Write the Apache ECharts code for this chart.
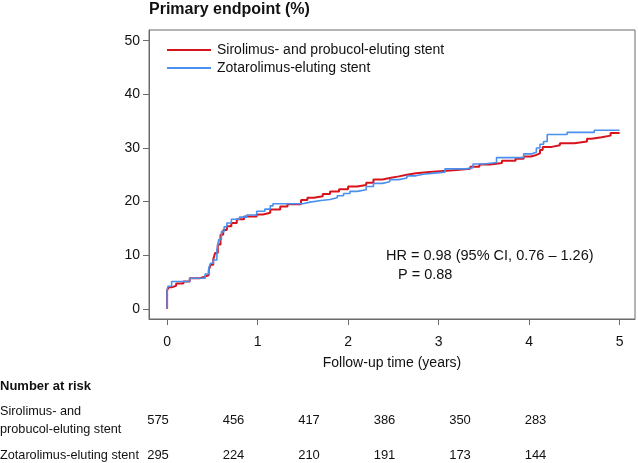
<!DOCTYPE html>
<html>
<head>
<meta charset="utf-8">
<script src="https://cdn.jsdelivr.net/npm/echarts@6/dist/echarts.min.js"></script>
<style>
html,body{margin:0;padding:0;background:#fff;}
#chart{width:638px;height:463px;}
</style>
</head>
<body>
<div id="chart"></div>
<script>
// ---- Data ----
const seriesNames = ['Sirolimus- and probucol-eluting stent', 'Zotarolimus-eluting stent'];
const xTicks = [0, 1, 2, 3, 4, 5];
const yTicks = [0, 10, 20, 30, 40, 50];

const sirolimusTime = [0, 0, 0.02, 0.05, 0.1, 0.18, 0.25, 0.36, 0.42, 0.46, 0.48, 0.51, 0.53, 0.56, 0.59, 0.62, 0.66, 0.71, 0.77, 0.85, 0.99, 1.06, 1.14, 1.25, 1.33, 1.48, 1.55, 1.62, 1.72, 1.8, 1.9, 2.0, 2.1, 2.2, 2.28, 2.38, 2.46, 2.56, 2.65, 2.75, 2.9, 3.05, 3.2, 3.35, 3.45, 3.57, 3.7, 3.85, 3.94, 4.02, 4.08, 4.12, 4.15, 4.25, 4.34, 4.5, 4.64, 4.69, 4.8, 4.9, 5.0];
const sirolimusRisk = [0, 3.5, 4.0, 4.3, 4.7, 5.1, 5.7, 6.0, 6.3, 7.2, 8.2, 9.2, 10.4, 12.0, 13.8, 14.7, 15.4, 16.0, 16.7, 17.2, 17.6, 17.9, 18.5, 19.1, 19.5, 20.3, 20.7, 21.0, 21.4, 21.9, 22.3, 22.8, 23.1, 23.5, 24.1, 24.4, 24.7, 25.0, 25.3, 25.5, 25.7, 25.9, 26.1, 26.5, 26.9, 27.2, 27.6, 28.0, 28.4, 28.7, 29.0, 29.6, 30.2, 30.5, 30.9, 31.2, 31.7, 32.0, 32.3, 32.8, 32.8];

const zotarolimusTime = [0, 0, 0.01, 0.05, 0.25, 0.42, 0.46, 0.48, 0.51, 0.55, 0.57, 0.6, 0.63, 0.66, 0.71, 0.8, 0.88, 0.99, 1.08, 1.14, 1.17, 1.5, 1.58, 1.7, 1.8, 1.88, 1.95, 2.02, 2.1, 2.2, 2.28, 2.38, 2.46, 2.56, 2.65, 2.75, 2.83, 2.95, 3.07, 3.3, 3.38, 3.5, 3.64, 3.94, 4.03, 4.08, 4.12, 4.16, 4.2, 4.42, 4.72, 5.0];
const zotarolimusRisk = [0, 3.5, 4.2, 5.1, 5.7, 6.5, 7.6, 8.5, 9.1, 11.0, 12.9, 14.4, 15.3, 16.0, 16.7, 17.1, 17.5, 18.2, 18.6, 19.2, 19.6, 19.9, 20.2, 20.4, 20.7, 21.1, 21.5, 21.9, 22.2, 22.8, 23.4, 23.7, 24.1, 24.4, 24.8, 25.1, 25.3, 25.5, 26.1, 26.3, 27.0, 27.3, 28.2, 28.9, 29.2, 30.0, 30.7, 31.2, 32.5, 32.9, 33.3, 33.3];

const riskTableTitle = 'Number at risk';
const riskRowLabels = [['Sirolimus- and', 'probucol-eluting stent'], ['Zotarolimus-eluting stent']];
const sirolimusAtRisk = [575, 456, 417, 386, 350, 283];
const zotarolimusAtRisk = [295, 224, 210, 191, 173, 144];

const hrText = 'HR = 0.98 (95% CI, 0.76 \u2013 1.26)';
const pText = 'P = 0.88';
const titleText = 'Primary endpoint (%)';
const xAxisName = 'Follow-up time (years)';

// ---- Build ----
const FONT = '"Liberation Sans", Arial, Helvetica, sans-serif';
const zip = (t, v) => t.map((x, i) => [x, v[i]]);
const colors = ['#d7141c', '#4a90ee'];

const gridLeft = 149, gridTop = 30, gridRight = 635, gridBottom = 319;

const graphics = [];
// Title
graphics.push({type:'text', x:149, y:10, style:{text:titleText, font:'bold 16px ' + FONT, fill:'#111', verticalAlign:'middle'}});
// HR
graphics.push({type:'text', x:386, y:256, style:{text:hrText, font:'14.5px ' + FONT, fill:'#111', verticalAlign:'middle'}});
graphics.push({type:'text', x:398, y:275, style:{text:pText, font:'14.5px ' + FONT, fill:'#111', verticalAlign:'middle'}});
// Risk table
graphics.push({type:'text', x:0, y:386, style:{text:riskTableTitle, font:'bold 13px ' + FONT, fill:'#111', verticalAlign:'middle'}});
graphics.push({type:'text', x:0, y:411, style:{text:riskRowLabels[0][0], font:'12.7px ' + FONT, fill:'#111', verticalAlign:'middle'}});
graphics.push({type:'text', x:0, y:429, style:{text:riskRowLabels[0][1], font:'12.7px ' + FONT, fill:'#111', verticalAlign:'middle'}});
graphics.push({type:'text', x:0, y:455, style:{text:riskRowLabels[1][0], font:'12.7px ' + FONT, fill:'#111', verticalAlign:'middle'}});
const colStart = 158, colStep = 75.5;
[sirolimusAtRisk, zotarolimusAtRisk].forEach((row, r) => {
  row.forEach((n, i) => {
    graphics.push({type:'text', x: colStart + i * colStep, y: r === 0 ? 420 : 455,
      style:{text:String(n), font:'13px ' + FONT, fill:'#111', align:'center', verticalAlign:'middle'}});
  });
});

const chart = echarts.init(document.getElementById('chart'), null, {renderer:'canvas'});
chart.setOption({
  animation: false,
  backgroundColor: '#fff',
  grid: {left: gridLeft, top: gridTop, width: gridRight - gridLeft, height: gridBottom - gridTop,
         show: true, borderColor: '#6b6b6b', borderWidth: 1, backgroundColor: 'transparent'},
  legend: {
    left: 167, top: 43, orient: 'vertical', itemWidth: 44, itemHeight: 2, itemGap: 4, padding: 0,
    icon: 'rect',
    data: seriesNames,
    textStyle: {fontFamily: FONT, fontSize: 14, color: '#111', padding: [0,0,0,1]}
  },
  xAxis: {
    type: 'value', min: -0.2, max: 5.17,
    splitLine: {show: false},
    axisLine: {show: true, onZero: false, lineStyle: {color: '#6b6b6b'}},
    axisTick: {show: true, length: 6, lineStyle: {color: '#6b6b6b'}, customValues: xTicks},
    axisLabel: {fontFamily: FONT, fontSize: 14, color: '#111', margin: 16, customValues: xTicks},
    name: xAxisName, nameLocation: 'middle', nameGap: 37,
    nameTextStyle: {fontFamily: FONT, fontSize: 14, color: '#111'}
  },
  yAxis: {
    type: 'value', min: -1.9, max: 52,
    splitLine: {show: false},
    axisLine: {show: true, onZero: false, lineStyle: {color: '#6b6b6b'}},
    axisTick: {show: true, length: 6, lineStyle: {color: '#6b6b6b'}, customValues: yTicks},
    axisLabel: {fontFamily: FONT, fontSize: 14, color: '#111', margin: 9, customValues: yTicks}
  },
  series: [
    {name: seriesNames[0], type: 'line', step: 'end', showSymbol: false, symbol: 'none',
     data: zip(sirolimusTime, sirolimusRisk), color: colors[0], lineStyle: {width: 2, color: colors[0]}, z: 2},
    {name: seriesNames[1], type: 'line', step: 'end', showSymbol: false, symbol: 'none',
     data: zip(zotarolimusTime, zotarolimusRisk), color: colors[1], lineStyle: {width: 1.6, color: colors[1]}, z: 3}
  ],
  graphic: graphics
});
</script>
</body>
</html>
